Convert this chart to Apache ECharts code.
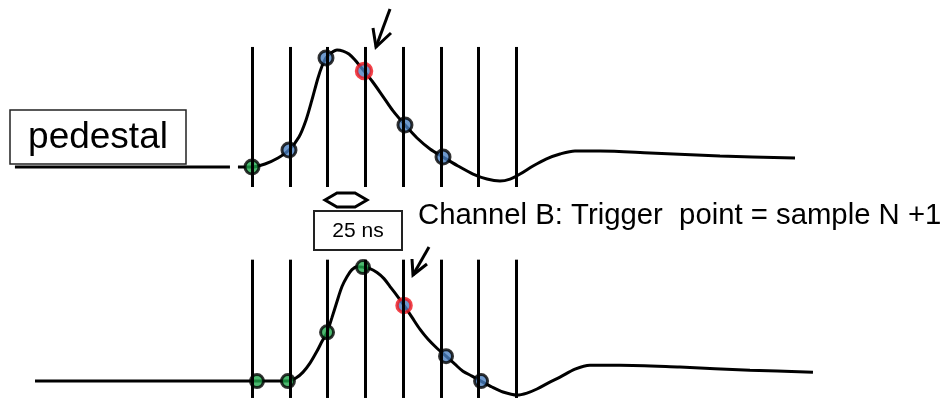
<!DOCTYPE html>
<html>
<head>
<meta charset="utf-8">
<script src="https://cdn.jsdelivr.net/npm/echarts@6/dist/echarts.min.js"></script>
<style>html,body{margin:0;padding:0;background:#fff;}#c{width:944px;height:399px;}</style>
</head>
<body>
<div id="c"></div>
<script>
// ---- data (time in ns, amplitude in arbitrary units, baseline = 0) ----
var sampleTimes = [0, 25, 50, 75, 100, 125, 150, 175];

var topBaseline = [[-157, 0], [-14.6, 0]];
var topWave = [[-9.3,0],[0,0],[8.6,2.6],[17.2,7.7],[24.5,14.5],[31.1,25.6],[35.8,40.2],[39.7,57.3],[43.7,76.1],[46.4,86.3],[49,93.2],[52.3,97.4],[56.3,100],[60.3,99.1],[64.2,96.6],[68.2,91.5],[71.5,86.3],[74.2,82.1],[79.5,73.5],[86.1,61.5],[93.4,47.9],[101.3,35.9],[109.3,24.8],[117.9,15.4],[126.5,8.5],[136.4,0.9],[146.4,-6],[155.6,-10.3],[164.2,-12],[170.9,-10.3],[177.5,-6],[186.1,0.9],[194.7,6.8],[204,11.1],[213.9,13.7],[230.5,13.7],[263.6,12],[309.9,9.4],[359.6,7.7]];
var topSamples = [[0,0],[24.5,14.5],[49,93.2],[74.2,82.1],[101.3,35.9],[126.5,8.5]];
var topSampleKind = ['g','b','b','r','b','b'];

var botWave = [[-143.7,0],[3.3,0],[23.8,0],[29.1,2.6],[33.8,7.7],[38.4,15.4],[43,25.6],[46.4,34.2],[49.7,41.9],[53,54.7],[56.3,68.4],[59.6,81.2],[62.9,89.7],[66.2,95.7],[69.5,98.3],[73.5,97.9],[78.1,96.6],[82.8,93.2],[87.4,88],[91.4,81.2],[96,73.5],[100.7,65],[106,54.7],[111.3,44.4],[116.6,35.9],[122.5,28.2],[128.5,21.4],[134.4,14.5],[139.7,8.5],[145.7,4.3],[151.7,0],[158.9,-5.1],[166.2,-9.4],[175.5,-12],[182.1,-10.3],[188.7,-6.8],[196,-1.7],[204,3.4],[213.9,10.3],[223.8,13.7],[243.7,13.7],[283.4,12],[329.8,9.4],[371.5,7.7]];
var botSamples = [[3.3,0],[23.8,0],[49.7,41.9],[73.5,97.9],[100.7,65],[128.5,21.4],[151.7,0]];
var botSampleKind = ['g','g','g','g','r','b','b'];

var topLineSpan = [-17.1, 102.6];
var botLineSpan = [-14.5, 104.3];

var labelPedestal = 'pedestal';
var labelPeriod = '25 ns';
var labelTrigger = 'Channel B: Trigger  point = sample N +1';

// ---- layout / style ----
var PX_NS = 1.51, X0 = 252, TMIN = -160, TMAX = 455;
var PX_AMP = 1.17;
var FONT = '"Liberation Sans", Arial, sans-serif';
var GREEN = '#1fa64b', BLUE = '#4a7fc0', RED = '#f0141c';

function markerStyle(kind) {
  return {
    color: kind === 'g' ? GREEN : BLUE,
    borderColor: kind === 'r' ? RED : '#000',
    borderWidth: kind === 'r' ? 3.5 : 3
  };
}
function samplesData(pts, kinds, size) {
  return pts.map(function (p, i) {
    return { value: p, itemStyle: markerStyle(kinds[i]), symbolSize: kinds[i]==='r' ? size+1 : size };
  });
}
function vlines(span) {
  return sampleTimes.map(function (t) { return [{ coord: [t, span[0]] }, { coord: [t, span[1]] }]; });
}

var gridLeft = X0 + TMIN * PX_NS;
var gridWidth = (TMAX - TMIN) * PX_NS;

var chart = echarts.init(document.getElementById('c'), null, { renderer: 'canvas' });
var option = {
  animation: false,
  backgroundColor: '#fff',
  grid: [
    { left: gridLeft, width: gridWidth, top: 0, height: 200 },
    { left: gridLeft, width: gridWidth, top: 200, height: 199 }
  ],
  xAxis: [
    { type: 'value', gridIndex: 0, min: TMIN, max: TMAX, show: false },
    { type: 'value', gridIndex: 1, min: TMIN, max: TMAX, show: false }
  ],
  yAxis: [
    { type: 'value', gridIndex: 0, min: -(200 - 167) / PX_AMP, max: 167 / PX_AMP, show: false },
    { type: 'value', gridIndex: 1, min: -(400 - 382) / PX_AMP, max: (382 - 200) / PX_AMP, show: false }
  ],
  series: [
    { type: 'line', xAxisIndex: 0, yAxisIndex: 0, data: [], z: 1,
      markLine: { silent: true, symbol: ['none','none'], label: { show: false },
        lineStyle: { color: '#000', width: 3, type: 'solid' }, data: vlines(topLineSpan) } },
    { type: 'line', xAxisIndex: 1, yAxisIndex: 1, data: [], z: 1,
      markLine: { silent: true, symbol: ['none','none'], label: { show: false },
        lineStyle: { color: '#000', width: 3, type: 'solid' }, data: vlines(botLineSpan) } },
    { type: 'line', xAxisIndex: 0, yAxisIndex: 0, data: topBaseline, showSymbol: false, z: 2,
      lineStyle: { color: '#000', width: 3 } },
    { type: 'line', xAxisIndex: 0, yAxisIndex: 0, data: topWave, showSymbol: false, smooth: 0.3, z: 2,
      lineStyle: { color: '#000', width: 3 } },
    { type: 'line', xAxisIndex: 1, yAxisIndex: 1, data: botWave, showSymbol: false, smooth: 0.3, z: 2,
      lineStyle: { color: '#000', width: 3 } },
    { type: 'scatter', xAxisIndex: 0, yAxisIndex: 0, z: 3, data: samplesData(topSamples, topSampleKind, 14) },
    { type: 'scatter', xAxisIndex: 1, yAxisIndex: 1, z: 3, data: samplesData(botSamples, botSampleKind, 13) }
  ],
  graphic: [
    { type: 'rect', shape: { x: 10, y: 110, width: 176, height: 54 }, style: { fill: '#fff', stroke: '#222', lineWidth: 1.5 }, z: 10 },
    { type: 'text', x: 98, y: 138, style: { text: labelPedestal, font: '37px ' + FONT, fill: '#000', textAlign: 'center', textVerticalAlign: 'middle' }, z: 11 },
    { type: 'rect', shape: { x: 314, y: 211, width: 88, height: 39 }, style: { fill: '#fff', stroke: '#222', lineWidth: 2 }, z: 10 },
    { type: 'text', x: 358, y: 231, style: { text: labelPeriod, font: '21px ' + FONT, fill: '#000', textAlign: 'center', textVerticalAlign: 'middle' }, z: 11 },
    { type: 'text', x: 418, y: 230, style: { text: labelTrigger, font: '29.3px ' + FONT, fill: '#000', textAlign: 'left', textVerticalAlign: 'bottom' }, z: 11 },
    { type: 'polygon', shape: { points: [[325,200],[337,193],[355,193],[367,200],[355,207],[337,207]] }, style: { fill: '#fff', stroke: '#000', lineWidth: 3 }, z: 10 },
    { type: 'polyline', shape: { points: [[390,9],[376,47]] }, style: { stroke: '#000', lineWidth: 3, fill: null }, z: 10 },
    { type: 'polyline', shape: { points: [[373,28],[376,47],[391,33]] }, style: { stroke: '#000', lineWidth: 3, fill: null }, z: 10 },
    { type: 'polyline', shape: { points: [[429,247],[413,275]] }, style: { stroke: '#000', lineWidth: 3, fill: null }, z: 10 },
    { type: 'polyline', shape: { points: [[412,259],[413,275],[427,264]] }, style: { stroke: '#000', lineWidth: 3, fill: null }, z: 10 }
  ]
};
chart.setOption(option);
</script>
</body>
</html>
